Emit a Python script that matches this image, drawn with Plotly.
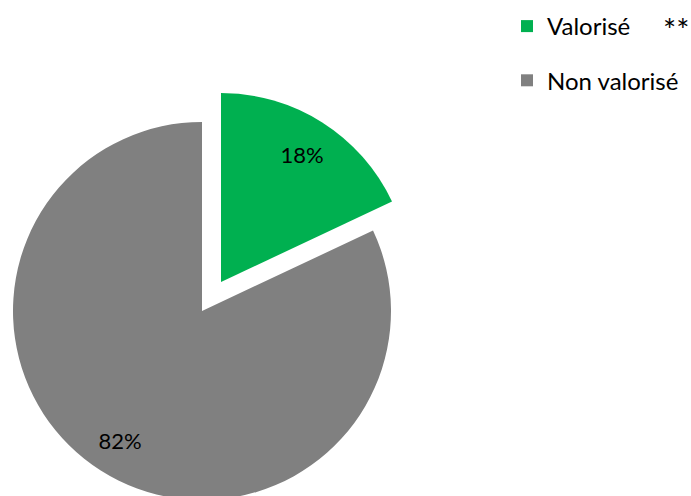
import plotly.graph_objects as go

labels = ["Valorisé", "Non valorisé"]
values = [18, 82]
colors = ["#00B050", "#808080"]
note = "**"

FONT = "Lato, Carlito, Calibri, sans-serif"
clear = "rgba(0,0,0,0)"
W, H = 691, 506  # page is 496 tall; the pie bottom is cut off as in the original

gray_dom = dict(x=[13/W, 391/W], y=[(H-500)/H, (H-122)/H])
green_dom = dict(x=[32/W, 410/W], y=[(H-471)/H, (H-93)/H])

common = dict(labels=labels, values=values, sort=False, direction="clockwise",
              rotation=0, hoverinfo="skip", showlegend=False)

fig = go.Figure()
# gray (not pulled) slice
fig.add_trace(go.Pie(**common, marker=dict(colors=[clear, colors[1]], line=dict(width=0)),
                     textinfo="none", domain=gray_dom))
# green (exploded) slice
fig.add_trace(go.Pie(**common, marker=dict(colors=[colors[0], clear], line=dict(width=0)),
                     textinfo="none", domain=green_dom))
# percentage labels (transparent ring so labels sit in the outer part of each slice)
fig.add_trace(go.Pie(**common, hole=0.62, marker=dict(colors=[clear, clear], line=dict(width=0)),
                     textinfo="percent", textposition="inside", insidetextorientation="horizontal",
                     textfont=dict(family=FONT, size=22, color=[clear, "black"]),
                     domain=gray_dom))
fig.add_trace(go.Pie(**common, hole=0.6, marker=dict(colors=[clear, clear], line=dict(width=0)),
                     textinfo="percent", textposition="inside", insidetextorientation="horizontal",
                     textfont=dict(family=FONT, size=22, color=["black", clear]),
                     domain=green_dom))
# legend-only entries (near-zero-size pies hidden inside the gray area)
for i, lab in enumerate(labels):
    fig.add_trace(go.Pie(
        labels=[lab], values=[values[i]], marker=dict(colors=[colors[i]], line=dict(width=0)),
        textinfo="none", domain=dict(x=[0.2, 0.20001], y=[0.3, 0.30001]),
        legendgroup=lab, showlegend=True, hoverinfo="skip",
    ))

fig.add_annotation(text=note, x=676/W, y=1 - 29/H, xref="paper", yref="paper",
                   showarrow=False, xanchor="center", yanchor="middle",
                   font=dict(family=FONT, size=31, color="black"))

fig.update_layout(
    width=W, height=H,
    margin=dict(l=0, r=0, t=0, b=0, autoexpand=False),
    paper_bgcolor="white", plot_bgcolor="white",
    font=dict(family=FONT, color="black"),
    legend=dict(x=507/W, y=1 - 4/H, xanchor="left", yanchor="top",
                font=dict(family=FONT, size=24, color="black"),
                tracegroupgap=20, traceorder="grouped",
                bgcolor="rgba(0,0,0,0)"),
)

fig.write_html("out.html", config={"displayModeBar": False}, post_script=(
    "document.body.style.margin='0';"
    "document.body.style.overflow='hidden';"
    "document.documentElement.style.overflow='hidden';"))
